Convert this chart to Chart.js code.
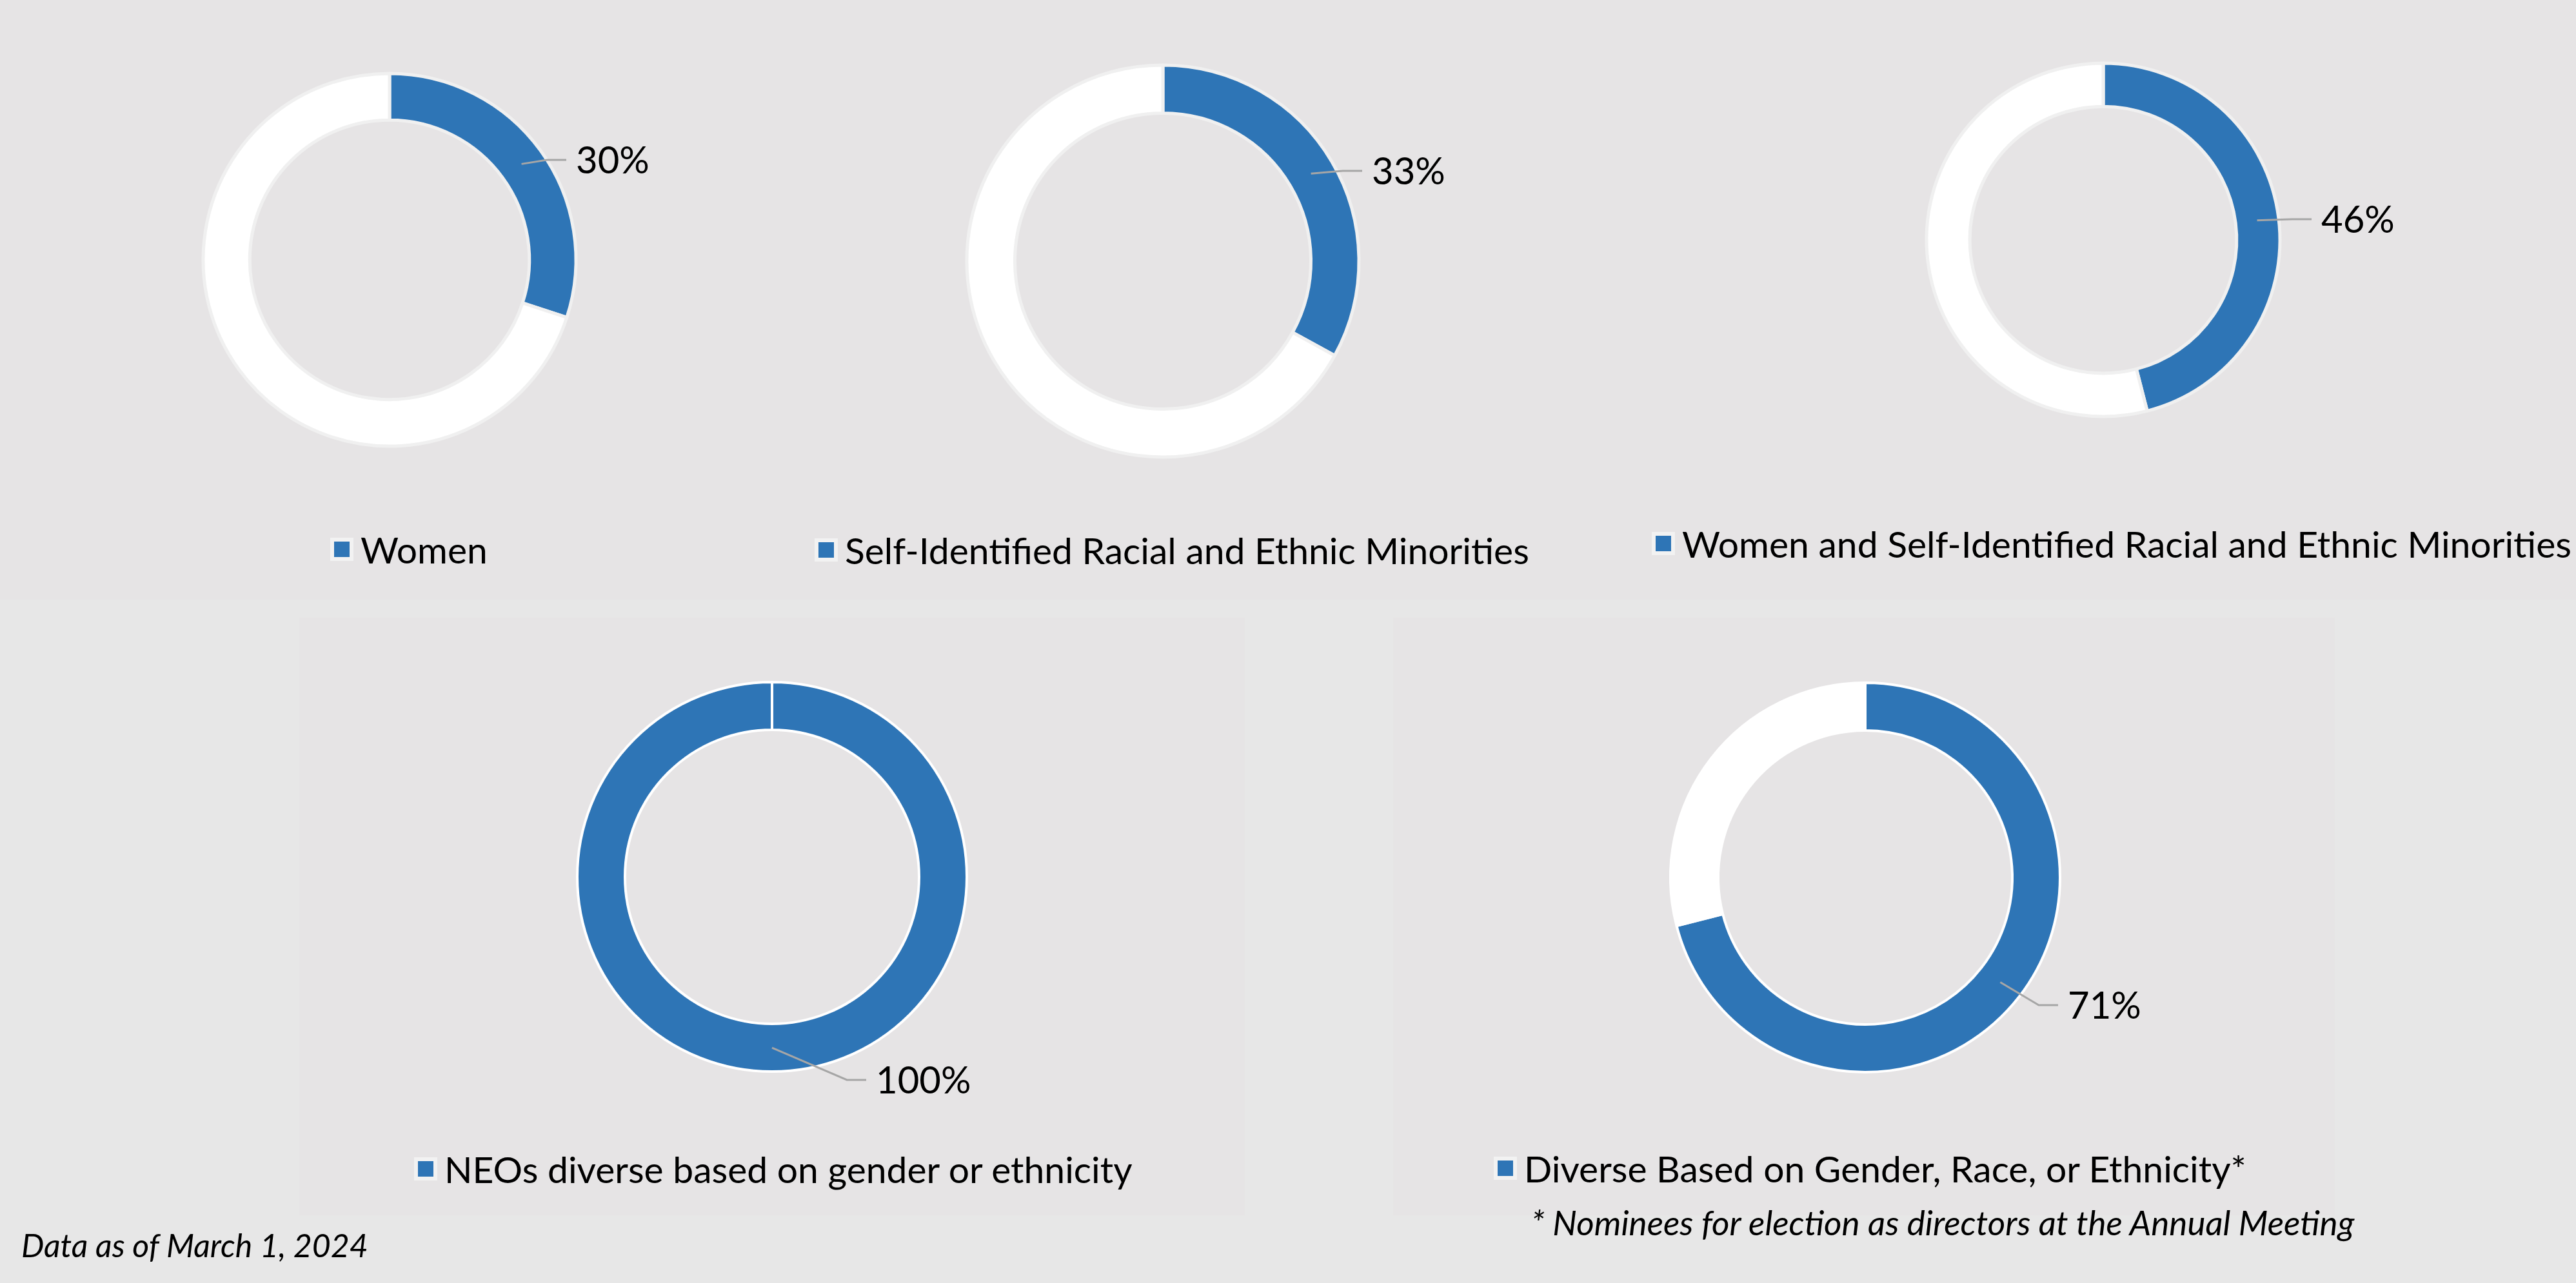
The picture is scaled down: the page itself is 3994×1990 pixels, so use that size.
<!DOCTYPE html>
<html>
<head>
<meta charset="utf-8">
<script src="https://cdn.jsdelivr.net/npm/chart.js@4.4.1/dist/chart.umd.min.js"></script>
<style>
  body { margin: 0; width: 3994px; height: 1990px; background: #e7e7e7; position: relative; overflow: hidden; font-family: Lato, "Open Sans", sans-serif; }
  .band { position: absolute; left: 0; top: 0; width: 3994px; height: 930px; background: #e6e4e5; }
  .panel { position: absolute; background: #e6e4e5; }
  canvas.donut { position: absolute; z-index: 1; }
  .legend { position: absolute; display: flex; align-items: center; height: 70px; font-size: 57px; color: #000; white-space: nowrap; z-index: 2; }
  .legend .swatch { width: 24px; height: 24px; background: #2e75b6; border: 6px solid #f2f2f2; margin-right: 11px; flex: none; }
  .note { position: absolute; font-style: italic; color: #000; white-space: nowrap; z-index: 2; }
</style>
</head>
<body>
<div class="band"></div>
<div class="panel" style="left:464px; top:958px; width:1466px; height:927px;"></div>
<div class="panel" style="left:2160px; top:958px; width:1460px; height:927px;"></div>
<div id="root"></div>
<div class="note" style="left:33px; top:1901px; font-size:50px;">Data as of March 1, 2024</div>
<div class="note" style="left:2374px; top:1864px; font-size:53px;">* Nominees for election as directors at the Annual Meeting</div>

<script>
// dades del gràfic
const categories = [
    "Women",
    "Self-Identified Racial and Ethnic Minorities",
    "Women and Self-Identified Racial and Ethnic Minorities",
    "NEOs diverse based on gender or ethnicity",
    "Diverse Based on Gender, Race, or Ethnicity*"
];
const diverseShare = [30, 33, 46, 100, 71];
const otherShare = [70, 67, 54, 0, 29];
const valueLabels = ["30%", "33%", "46%", "100%", "71%"];

// posició de cada donut (centre, radi, etiqueta, llegenda)
const placement = [
    { cx: 604,  cy: 403,  r: 289, cut: '75%',   w: 880, h: 760, dx: 289, dy: -155, edge: '#f0f0f0', bw: 5, leg: [512, 852] },
    { cx: 1803, cy: 405,  r: 304, cut: '75.5%', w: 940, h: 760, dx: 324, dy: -140, edge: '#f0f0f0', bw: 5, leg: [1263, 853] },
    { cx: 3261, cy: 372,  r: 274, cut: '75.5%', w: 960, h: 700, dx: 338, dy: -32,  edge: '#f0f0f0', bw: 5, leg: [2561, 843] },
    { cx: 1197, cy: 1360, r: 302, cut: '75.5%', w: 780, h: 760, dx: 161, dy: 315,  edge: '#ffffff', bw: 4, leg: [642, 1813] },
    { cx: 2892, cy: 1361, r: 302, cut: '75.5%', w: 900, h: 700, dx: 314, dy: 198,  edge: '#ffffff', bw: 4, leg: [2316, 1812] }
];

// etiqueta amb línia guia des del centre del primer sector
const leaderLabel = {
    id: 'leaderLabel',
    afterDatasetsDraw(chart, args, opts) {
        const ctx = chart.ctx;
        const arc = chart.getDatasetMeta(0).data[0];
        const p = arc.getProps(['x', 'y', 'startAngle', 'endAngle', 'innerRadius', 'outerRadius'], true);
        const mid = (p.startAngle + p.endAngle) / 2;
        const rm = (p.innerRadius + p.outerRadius) / 2;
        const px = p.x + Math.cos(mid) * rm;
        const py = p.y + Math.sin(mid) * rm;
        const tx = p.x + opts.dx;
        const ty = p.y + opts.dy;

        ctx.save();
        ctx.strokeStyle = '#a6a6a6';
        ctx.lineWidth = 3;
        ctx.beginPath();
        ctx.moveTo(px, py);
        ctx.lineTo(tx - 45, ty);
        ctx.lineTo(tx - 15, ty);
        ctx.stroke();

        ctx.font = '58px Lato, "Open Sans", sans-serif';
        ctx.fillStyle = '#000';
        ctx.textAlign = 'left';
        ctx.textBaseline = 'middle';
        ctx.fillText(opts.text, tx, ty + 2);
        ctx.restore();
    }
};

const root = document.getElementById('root');

categories.forEach((cat, i) => {
    const pl = placement[i];

    const canvas = document.createElement('canvas');
    canvas.className = 'donut';
    canvas.width = pl.w;
    canvas.height = pl.h;
    canvas.style.left = (pl.cx - pl.w / 2) + 'px';
    canvas.style.top = (pl.cy - pl.h / 2) + 'px';
    root.appendChild(canvas);

    new Chart(canvas.getContext('2d'), {
        type: 'doughnut',
        data: {
            labels: [cat, 'Other'],
            datasets: [{
                data: [diverseShare[i], otherShare[i]],
                backgroundColor: ['#2e75b6', '#ffffff'],
                borderColor: pl.edge,
                borderWidth: pl.bw
            }]
        },
        options: {
            responsive: false,
            devicePixelRatio: 1,
            animation: false,
            events: [],
            radius: pl.r,
            cutout: pl.cut,
            layout: { padding: 0 },
            plugins: {
                legend: { display: false },
                tooltip: { enabled: false },
                leaderLabel: { text: valueLabels[i], dx: pl.dx, dy: pl.dy }
            }
        },
        plugins: [leaderLabel]
    });

    // llegenda
    const leg = document.createElement('div');
    leg.className = 'legend';
    leg.style.left = pl.leg[0] + 'px';
    leg.style.top = (pl.leg[1] - 35) + 'px';
    leg.innerHTML = '<span class="swatch"></span><span></span>';
    leg.lastChild.textContent = cat;
    root.appendChild(leg);
});
</script>
</body>
</html>
